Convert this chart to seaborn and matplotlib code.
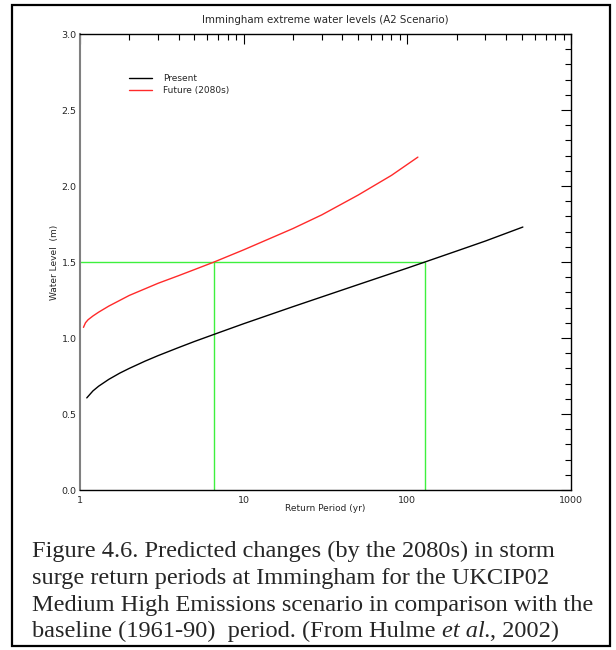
import numpy as np
import pandas as pd
import matplotlib
matplotlib.use("Agg")
import matplotlib.pyplot as plt
import seaborn as sns
from matplotlib.ticker import FixedLocator, LogLocator, MultipleLocator, NullFormatter, FixedFormatter
from matplotlib.patches import Rectangle

# ---------------- data ----------------
title = "Immingham extreme water levels (A2 Scenario)"
x_label = "Return Period (yr)"
y_label = "Water Level  (m)"
series_names = ["Present", "Future (2080s)"]

present_period = [1.1, 1.2, 1.3, 1.5, 1.75, 2, 2.5, 3, 4, 5, 7, 10, 20, 50, 100, 200, 300, 508]
present_level = [0.606, 0.652, 0.683, 0.728, 0.769, 0.800, 0.848, 0.884, 0.937, 0.977,
                 1.034, 1.094, 1.206, 1.351, 1.460, 1.572, 1.638, 1.730]

future_period = [1.05, 1.08, 1.12, 1.2, 1.3, 1.5, 2, 3, 4, 5, 6.6, 10, 20, 30, 50, 80, 116]
future_level = [1.07, 1.10, 1.12, 1.145, 1.17, 1.21, 1.28, 1.36, 1.41, 1.45, 1.50,
                1.58, 1.72, 1.81, 1.94, 2.07, 2.19]

threshold_level = 1.5
threshold_periods = [6.6, 128]

x_ticks = [1, 10, 100, 1000]
x_tick_labels = ["1", "10", "100", "1000"]
y_ticks = [0.0, 0.5, 1.0, 1.5, 2.0, 2.5, 3.0]
y_tick_labels = ["0.0", "0.5", "1.0", "1.5", "2.0", "2.5", "3.0"]

# caption: each line is a list of (text, style) pieces
caption_lines = [
    [("Figure 4.6. Predicted changes (by the 2080s) in storm", "normal")],
    [("surge return periods at Immingham for the UKCIP02", "normal")],
    [("Medium High Emissions scenario in comparison with the", "normal")],
    [("baseline (1961-90)  period. (From Hulme ", "normal"), ("et al.", "italic"), (", 2002)", "normal")],
]

# ---------------- styling ----------------
sns.set_style("white")
plt.rcParams["font.family"] = ["DejaVu Sans"]

W, H = 616, 650
fig = plt.figure(figsize=(W / 100, H / 100), dpi=100)
fig.patch.set_facecolor("white")

ax_l, ax_r, ax_t, ax_b = 80, 571, 34, 490
ax = fig.add_axes([ax_l / W, 1 - ax_b / H, (ax_r - ax_l) / W, (ax_b - ax_t) / H])
ax.set_facecolor("white")

df = pd.concat([
    pd.DataFrame({"period": present_period, "level": present_level, "series": series_names[0]}),
    pd.DataFrame({"period": future_period, "level": future_level, "series": series_names[1]}),
])

sns.lineplot(data=df, x="period", y="level", hue="series",
             palette={series_names[0]: "black", series_names[1]: "#ff2a2a"},
             linewidth=1.0, ax=ax, legend=True, sort=True)

# threshold guide lines
green = "#3ef03e"
ax.hlines(threshold_level, x_ticks[0], max(threshold_periods), colors=green, linewidth=1.0, zorder=1)
ax.vlines(threshold_periods, y_ticks[0], threshold_level, colors=green, linewidth=1.0, zorder=1)

ax.set_xscale("log")
ax.set_xlim(x_ticks[0], x_ticks[-1])
ax.set_ylim(y_ticks[0], y_ticks[-1])

ax.xaxis.set_major_locator(FixedLocator(x_ticks))
ax.xaxis.set_major_formatter(FixedFormatter(x_tick_labels))
ax.xaxis.set_minor_locator(LogLocator(base=10, subs=range(2, 10)))
ax.xaxis.set_minor_formatter(NullFormatter())
ax.yaxis.set_major_locator(FixedLocator(y_ticks))
ax.yaxis.set_major_formatter(FixedFormatter(y_tick_labels))
ax.yaxis.set_minor_locator(MultipleLocator(0.1))

ax.tick_params(which="both", direction="in", top=True, right=True, color="black",
               labelsize=6.8, width=0.8)
ax.tick_params(which="major", length=7.5)
ax.tick_params(which="minor", length=4.0)
ax.tick_params(axis="y", which="major", pad=2.5)
ax.tick_params(axis="x", which="major", pad=4)

for s in ["top", "right", "bottom"]:
    ax.spines[s].set_color("black")
    ax.spines[s].set_linewidth(1.0)
ax.spines["left"].set_color("#808080")
ax.spines["left"].set_linewidth(1.5)

ax.set_xlabel(x_label, fontsize=6.5)
ax.set_ylabel(y_label, fontsize=6.5)
ax.xaxis.set_label_coords(0.5, -0.03)
ax.yaxis.set_label_coords(-0.042, 0.5)
ax.set_title(title, fontsize=7.4, pad=8)

# legend
handles, labels = ax.get_legend_handles_labels()
leg = ax.legend(handles, labels, loc="upper left",
                bbox_to_anchor=((129 - ax_l) / (ax_r - ax_l), (ax_b - 74) / (ax_b - ax_t)),
                frameon=False, fontsize=6.5, handlelength=2.6, handletextpad=1.2,
                labelspacing=0.35, borderpad=0, borderaxespad=0)

# caption
renderer = fig.canvas.get_renderer()
baselines = [557, 584, 611, 637]
for pieces, yb in zip(caption_lines, baselines):
    x_px = 32.0
    for txt, style in pieces:
        t = fig.text(x_px / W, 1 - yb / H, txt, fontsize=17.6, family="Liberation Serif",
                     style=style, ha="left", va="baseline")
        x_px += t.get_window_extent(renderer=renderer).width

# outer frame
fig.patches.append(Rectangle((12 / W, 1 - 646 / H), 598 / W, 641 / H,
                             transform=fig.transFigure, fill=False,
                             edgecolor="black", linewidth=1.6))

fig.savefig("out.png", dpi=100, facecolor="white")
